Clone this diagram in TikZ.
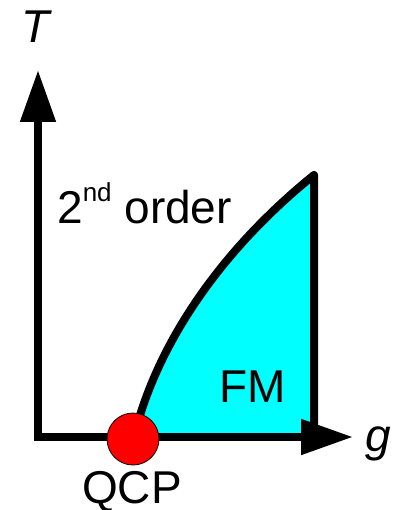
\documentclass[tikz,border=0pt]{standalone}
\usepackage{fontspec}
\setmainfont{Liberation Sans}
\usetikzlibrary{positioning,arrows.meta}
\definecolor{ink}{HTML}{000000}
\definecolor{fmfill}{HTML}{00FFFF}
\definecolor{qcpred}{HTML}{FF0000}
\tikzset{
  axis/.style={{Triangle[length=52pt,width=34pt]}-{Triangle[length=52pt,width=34pt]},
    line width=8pt, color=ink},
  bound/.style={line width=8pt, color=ink, line join=round},
  lab/.style={font=\fontsize{46}{46}\selectfont, text=ink, inner sep=0pt, anchor=base},
  qdot/.style={circle, fill=qcpred, draw=ink, line width=0.8pt, minimum size=52pt, inner sep=0pt},
}

\begin{document}
\begin{tikzpicture}[x=1pt,y=-1pt]
  \useasboundingbox (0,0) rectangle (404,510);
  \coordinate (O)    at (38,437);
  \coordinate (ytip) at (38,70);
  \coordinate (xtip) at (353,437);
  \coordinate (crit) at (314,175);
  \coordinate (foot) at (314,437);
  \coordinate (qc)   at (134,437);
  % FM phase
  \fill[fmfill] (qc) .. controls (155,350) and (215,255) .. (crit) -- (foot) -- cycle;
  \draw[bound] (qc) .. controls (155,350) and (215,255) .. (crit) -- (foot);
  % axes
  \draw[axis] (ytip) -- (O) -- (xtip);
  \node[qdot] (qcp) at (133,439) {};
  % labels
  \node[lab] (tlab) at (36,43) {\itshape T};
  \node[lab] (glab) at (378,451) {\itshape g};
  \node[lab, anchor=base west] (ordlab) at (57,223)
    {2\raisebox{21pt}{\fontsize{26}{26}\selectfont nd} order};
  \node[lab] (fmlab) at (253,402) {FM};
  \node[lab, text depth=0pt] (qcplab) at (132,503) {QCP};
\end{tikzpicture}
\end{document}
